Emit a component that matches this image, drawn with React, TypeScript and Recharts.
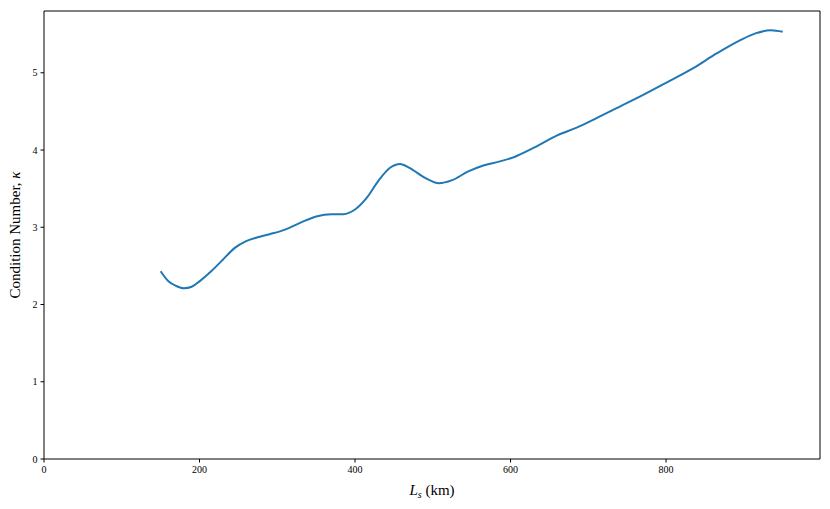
import React from "react";
import { LineChart, Line, XAxis, YAxis, ReferenceLine } from "recharts";

const lsKm = [150, 160, 170, 180, 190, 200, 215, 230, 245, 260, 275, 290, 310, 330, 350, 370, 385, 400, 415, 430, 445, 458, 470, 490, 508, 525, 545, 565, 585, 605, 630, 660, 685, 710, 740, 770, 800, 835, 865, 895, 915, 935, 950];
const kappa = [2.43, 2.3, 2.24, 2.21, 2.23, 2.3, 2.43, 2.58, 2.73, 2.82, 2.87, 2.91, 2.97, 3.06, 3.14, 3.17, 3.17, 3.23, 3.38, 3.6, 3.77, 3.82, 3.77, 3.64, 3.57, 3.61, 3.72, 3.8, 3.85, 3.91, 4.03, 4.19, 4.29, 4.41, 4.56, 4.71, 4.87, 5.06, 5.25, 5.42, 5.51, 5.55, 5.53];
const xTicks = [0, 200, 400, 600, 800];
const yTicks = [0, 1, 2, 3, 4, 5];
const xMax = 998;
const yMax = 5.8;

const data = lsKm.map((x, i) => ({ x, k: kappa[i] }));

const FONT = "'Liberation Serif', 'DejaVu Serif', serif";
const tickStyle = { fontSize: 10, fill: "#000", fontFamily: FONT };

const XLabel = (props: any) => {
  const vb = props.viewBox || {};
  const cx = vb.x + vb.width / 2;
  const y = vb.y + 36;
  return (
    <text x={cx} y={y} textAnchor="middle" fontFamily={FONT} fontSize={15} fill="#000">
      <tspan fontStyle="italic">L</tspan>
      <tspan fontStyle="italic" fontSize={10} dy={3}>s</tspan>
      <tspan dy={-3}> (km)</tspan>
    </text>
  );
};

const YLabel = (props: any) => {
  const vb = props.viewBox || {};
  const cy = vb.y + vb.height / 2;
  const x = 20;
  return (
    <text x={x} y={cy} textAnchor="middle" fontFamily={FONT} fontSize={15} fill="#000" transform={`rotate(-90, ${x}, ${cy})`}>
      <tspan>Condition Number, </tspan>
      <tspan fontStyle="italic">κ</tspan>
    </text>
  );
};

export default function App() {
  return (
    <div style={{ position: "absolute", left: 0, top: 0, width: 830, height: 509, background: "#fff" }}>
      <LineChart width={830} height={509} data={data} margin={{ top: 11, right: 10, bottom: 0, left: 0 }}>
        <XAxis
          dataKey="x"
          type="number"
          domain={[0, xMax]}
          ticks={xTicks}
          tick={tickStyle}
          tickSize={3.5}
          tickMargin={3}
          stroke="#000"
          height={50}
          allowDataOverflow
          label={<XLabel />}
        />
        <YAxis
          type="number"
          domain={[0, yMax]}
          ticks={yTicks}
          tick={tickStyle}
          tickSize={3.5}
          tickMargin={3}
          stroke="#000"
          width={44}
          allowDataOverflow
          label={<YLabel />}
        />
        <ReferenceLine y={yMax} stroke="#000" strokeWidth={1} ifOverflow="extendDomain" />
        <ReferenceLine x={xMax} stroke="#000" strokeWidth={1} ifOverflow="extendDomain" />
        <Line type="monotone" dataKey="k" stroke="#1f77b4" strokeWidth={2} dot={false} isAnimationActive={false} />
      </LineChart>
    </div>
  );
}
